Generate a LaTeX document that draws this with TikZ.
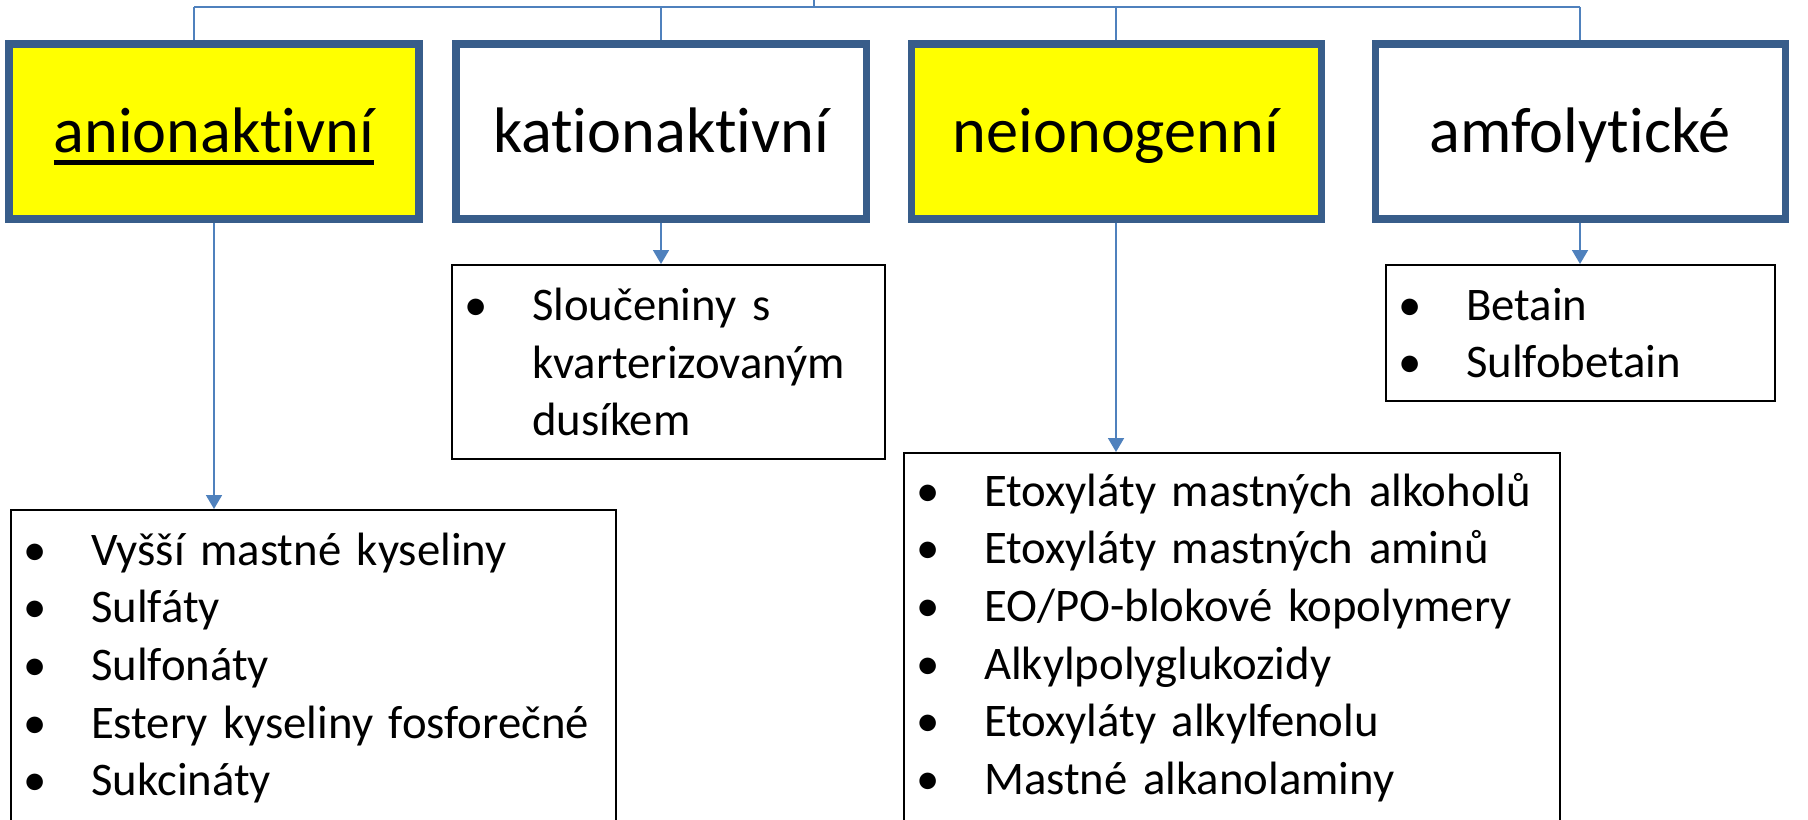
\documentclass[tikz,border=0pt]{standalone}
\usepackage{fontspec}
\setmainfont{Carlito}[Ligatures=CommonOff]
\usetikzlibrary{arrows.meta,positioning,calc}
\usepackage{xcolor}
\definecolor{boxblue}{RGB}{56,93,138}
\definecolor{linkblue}{RGB}{79,129,189}
\definecolor{headyellow}{RGB}{255,255,0}

\newcommand{\blt}{\makebox[0.68cm][l]{\textbullet}}
\newcommand{\gap}{\hspace*{0.68cm}}
\newcommand{\undl}[1]{\setbox0\hbox{#1}\rlap{#1}\rule[-3.8pt]{\wd0}{1.6pt}}

\tikzset{
    head/.style={draw=boxblue, line width=2pt, minimum width=4.1cm, minimum height=1.75cm, text height=0.45cm, text depth=0.04cm, font=\fontsize{18.3}{21}\selectfont},
    items/.style={draw=black, line width=0.6pt, anchor=north west, align=left, inner xsep=0.12cm, font=\fontsize{13.3}{16.4}\selectfont},
    link/.style={draw=linkblue, line width=0.5pt},
}

\begin{document}
\begin{tikzpicture}
    \useasboundingbox (0,0) rectangle (18.08,8.19);
    % main categories
    \node[head, fill=headyellow] (anion) at (2.14,6.875) {\undl{anionaktivní}};
    \node[head] (kation) at (6.61,6.875) {kationaktivní};
    \node[head, fill=headyellow] (neion) at (11.16,6.875) {neionogenní};
    \node[head] (amfo) at (15.80,6.875) {amfolytické};
    % examples
    \node[items, text width=5.81cm, minimum height=3.16cm] (anionlist) at (0.10,3.10)
        {\blt Vyšší mastné kyseliny\\ \blt Sulfáty\\ \blt Sulfonáty\\ \blt Estery kyseliny fosforečné\\ \blt Sukcináty};
    \node[items, text width=4.09cm, minimum height=1.94cm] (kationlist) at (4.51,5.55)
        {\blt Sloučeniny s\\ \gap kvarterizovaným\\ \gap dusíkem};
    \node[items, text width=6.32cm, minimum height=3.69cm] (neionlist) at (9.03,3.67)
        {\blt Etoxyláty mastných alkoholů\\ \blt Etoxyláty mastných aminů\\ \blt EO/PO-blokové kopolymery\\ \blt Alkylpolyglukozidy\\ \blt Etoxyláty alkylfenolu\\ \blt Mastné alkanolaminy};
    \node[items, text width=3.65cm, minimum height=1.36cm] (amfolist) at (13.85,5.55)
        {\blt Betain\\ \blt Sulfobetain};
    % tree lines
    \coordinate (root) at (8.14,8.3);
    \coordinate (bus) at (8.14,8.12);
    \draw[link] (root) -- (bus);
    \draw[link] ([xshift=-0.2cm]anion.north |- bus) -- (amfo.north |- bus);
    \draw[link] ([xshift=-0.2cm]anion.north |- bus) -- ([xshift=-0.2cm]anion.north);
    \foreach \n in {kation,neion,amfo}
        \draw[link] (\n.north |- bus) -- (\n.north);
    % arrows to examples
    \foreach \n in {anion,kation,neion,amfo}
        \draw[link, -{Triangle[width=0.16cm,length=0.14cm]}] (\n.south) -- (\n.south |- \n list.north);
\end{tikzpicture}
\end{document}
